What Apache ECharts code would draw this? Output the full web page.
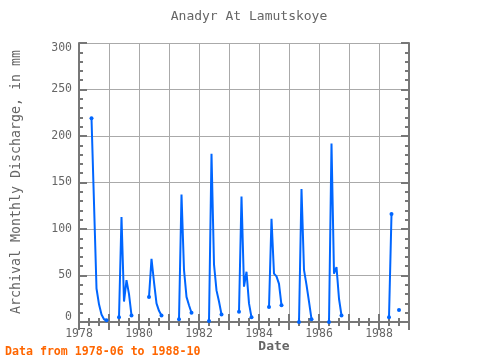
<!DOCTYPE html>
<html>
<head>
<meta charset="utf-8">
<script src="https://cdn.jsdelivr.net/npm/echarts@6/dist/echarts.min.js"></script>
<style>
html,body{margin:0;padding:0;background:#fff;}
#chart{width:480px;height:360px;}
</style>
</head>
<body>
<div id="chart"></div>
<script>
// Monthly discharge (mm), Jan..Dec for each year; null = no data
const years = [1978, 1979, 1980, 1981, 1982, 1983, 1984, 1985, 1986, 1987, 1988];
const v1978 = [null, null, null, null, null, 219, 128, 36, 19, 8, 3, 2];
const v1979 = [null, null, null, null, 5, 113, 22, 45, 30, 7, null, null];
const v1980 = [null, null, null, null, 27, 68, 43, 20, 12, 7, null, null];
const v1981 = [null, null, null, null, 3, 137, 56, 27, 18, 10, null, null];
const v1982 = [null, null, null, null, 1, 181, 62, 34, 22, 8, null, null];
const v1983 = [null, null, null, null, 11, 135, 38, 54, 20, 5, null, null];
const v1984 = [null, null, null, null, 16, 111, 52, 49, 41, 18, null, null];
const v1985 = [null, null, null, null, 0, 143, 56, 40, 22, 3, null, null];
const v1986 = [null, null, null, null, 0, 192, 52, 59, 25, 7, null, null];
const v1987 = [null, null, null, null, null, null, null, null, null, null, null, null];
const v1988 = [null, null, null, null, 5, 116, null, null, 13, null, null, null];
const yearValues = [v1978, v1979, v1980, v1981, v1982, v1983, v1984, v1985, v1986, v1987, v1988];

const xTickLabels = [1978, 1980, 1982, 1984, 1986, 1988];
const yTickLabels = [0, 50, 100, 150, 200, 250, 300];

const titleText = 'Anadyr At Lamutskoye';
const yName = 'Archival Monthly Discharge, in mm';
const xName = 'Date';
const footer = 'Data from 1978-06 to 1988-10';

// flatten
const flat = [];
years.forEach((y, i) => {
  yearValues[i].forEach((v, m) => {
    flat.push([y + m / 12, v === null ? '-' : v]);
  });
});
function has(i) { return i >= 0 && i < flat.length && flat[i][1] !== '-'; }

const FONT = 'DejaVu Sans Mono';
const AX = '#777';
const TX = '#666';

function axisCommon(extra) {
  return Object.assign({
    axisLine: { show: true, lineStyle: { color: AX, width: 2 } },
    axisTick: { show: true, inside: true, length: 8, lineStyle: { color: AX, width: 2 } },
    minorTick: { show: true, length: 4, lineStyle: { color: AX, width: 2 } },
  }, extra);
}

const chart = echarts.init(document.getElementById('chart'), null, { renderer: 'canvas' });
chart.setOption({
  animation: false,
  backgroundColor: '#fff',
  grid: { left: 79, right: 71, top: 43, bottom: 38, containLabel: false },
  xAxis: [
    axisCommon({
      type: 'value', min: 1978, max: 1989, interval: 1, position: 'bottom',
      minorTick: { show: true, splitNumber: 3, length: 4, lineStyle: { color: AX, width: 2 } },
      splitLine: { show: true, lineStyle: { color: '#aaa', width: 1 } },
      axisLabel: {
        show: true, color: TX, fontFamily: FONT, fontSize: 11.5, margin: 6,
        formatter: v => xTickLabels.indexOf(v) >= 0 ? String(v) : ''
      }
    }),
    axisCommon({
      type: 'value', min: 1978, max: 1989, interval: 1, position: 'top',
      minorTick: { show: true, splitNumber: 3, length: 4, lineStyle: { color: AX, width: 2 } },
      splitLine: { show: false }, axisLabel: { show: false }
    })
  ],
  yAxis: [
    axisCommon({
      type: 'value', min: 0, max: 300, interval: 50, position: 'left',
      minorTick: { show: true, splitNumber: 5, length: 4, lineStyle: { color: AX, width: 2 } },
      splitLine: { show: true, lineStyle: { color: '#aaa', width: 1 } },
      axisLabel: {
        show: true, color: TX, fontFamily: FONT, fontSize: 11.5, margin: 7,
        formatter: v => {
          if (yTickLabels.indexOf(v) < 0) return '';
          if (v === yTickLabels[0]) return '{lo|' + v + '}';
          if (v === yTickLabels[yTickLabels.length - 1]) return '{hi|' + v + '}';
          return String(v);
        },
        rich: {
          lo: { color: TX, fontFamily: FONT, fontSize: 11.5, padding: [0, 0, 10, 0] },
          hi: { color: TX, fontFamily: FONT, fontSize: 11.5, padding: [10, 0, 0, 0] }
        }
      }
    }),
    axisCommon({
      type: 'value', min: 0, max: 300, interval: 50, position: 'right',
      minorTick: { show: true, splitNumber: 5, length: 4, lineStyle: { color: AX, width: 2 } },
      splitLine: { show: false }, axisLabel: { show: false }
    })
  ],
  series: [{
    type: 'line',
    xAxisIndex: 0, yAxisIndex: 0,
    data: flat,
    connectNulls: false,
    symbol: 'circle',
    showSymbol: true,
    symbolSize: (val, params) => {
      const i = params.dataIndex;
      if (!has(i)) return 0;
      return (!has(i - 1) || !has(i + 1)) ? 4 : 0;
    },
    itemStyle: { color: '#0066ff' },
    lineStyle: { color: '#0066ff', width: 2 },
    z: 5
  }],
  graphic: [
    { type: 'text', left: 'center', top: 0, style: {} , invisible: true },
    { type: 'text', x: 249, y: 17, style: { text: titleText, fill: TX, font: '13px "' + FONT + '"', textAlign: 'center', textVerticalAlign: 'middle' } },
    { type: 'text', x: 17, y: 182, rotation: Math.PI / 2, style: { text: yName, fill: TX, font: '13.3px "' + FONT + '"', textAlign: 'center', textVerticalAlign: 'middle' } },
    { type: 'text', x: 274, y: 347, style: { text: xName, fill: TX, font: 'bold 13px "' + FONT + '"', textAlign: 'center', textVerticalAlign: 'middle' } },
    { type: 'text', x: 5, y: 352, style: { text: footer, fill: '#ff6600', font: 'bold 11.6px "' + FONT + '"', textAlign: 'left', textVerticalAlign: 'middle' } }
  ]
});
</script>
</body>
</html>
